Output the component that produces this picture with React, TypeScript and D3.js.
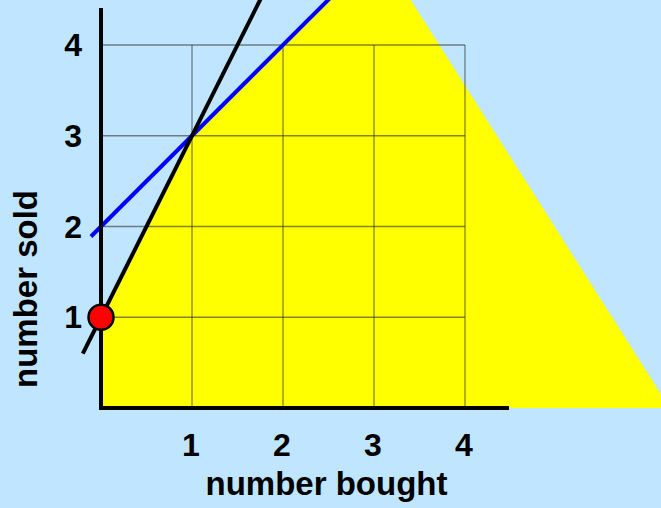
import React from "react";
import * as d3 from "d3";

const W = 661;
const H = 508;

const xTicks = [1, 2, 3, 4];
const yTicks = [1, 2, 3, 4];
const xTitle = "number bought";
const yTitle = "number sold";

// feasible region (yellow) vertices in data units
const regionPts: [number, number][] = [
  [0, 0],
  [0, 1],
  [1, 3],
  [2.5, 4.5],
  [3.4, 4.5],
  [6.25, 0],
];
// black line y = 2x + 1
const blackLine: [number, number][] = [
  [-0.2, 0.6],
  [1.78, 4.56],
];
// blue line y = x + 2
const blueLine: [number, number][] = [
  [-0.11, 1.89],
  [2.56, 4.56],
];
const point: [number, number] = [0, 1];

export default function App() {
  const x = d3.scaleLinear().domain([0, 4]).range([101, 465]);
  const y = d3.scaleLinear().domain([0, 4]).range([408, 45]);
  const line = d3
    .line<[number, number]>()
    .x((d) => x(d[0]))
    .y((d) => y(d[1]));
  const font = "'Liberation Sans', Arial, sans-serif";

  return (
    <svg
      width={W}
      height={H}
      style={{ position: "absolute", left: 0, top: 0 }}
      viewBox={`0 0 ${W} ${H}`}
    >
      <rect x={0} y={0} width={W} height={H} fill="#BFE6FE" />
      <path d={line(regionPts) + "Z"} fill="#FFFF00" />
      <g stroke="#333" strokeOpacity={0.6} strokeWidth={1.3}>
        {xTicks.map((t) => (
          <line key={"vx" + t} x1={x(t)} x2={x(t)} y1={y(0)} y2={y(4)} />
        ))}
        {yTicks.map((t) => (
          <line key={"hy" + t} x1={x(0)} x2={x(4)} y1={y(t)} y2={y(t)} />
        ))}
      </g>
      <path d={line(blueLine) || ""} stroke="#0000FF" strokeWidth={4} fill="none" />
      <path d={line(blackLine) || ""} stroke="#000" strokeWidth={4} fill="none" />
      <line x1={x(0)} x2={x(0)} y1={8} y2={y(0) + 2} stroke="#000" strokeWidth={4} />
      <line x1={x(0) - 2} x2={509} y1={y(0)} y2={y(0)} stroke="#000" strokeWidth={4} />
      <circle
        cx={x(point[0])}
        cy={y(point[1])}
        r={12.5}
        fill="#FF0000"
        stroke="#000"
        strokeWidth={2.5}
      />
      <g fontFamily={font} fontWeight="bold" fontSize={32} fill="#000">
        {xTicks.map((t) => (
          <text key={"xt" + t} x={x(t) - 1} y={456} textAnchor="middle">
            {t}
          </text>
        ))}
        {yTicks.map((t) => (
          <text key={"yt" + t} x={82} y={y(t) + 11} textAnchor="end">
            {t}
          </text>
        ))}
      </g>
      <text
        x={326.5}
        y={495}
        textAnchor="middle"
        fontFamily={font}
        fontWeight="bold"
        fontSize={33}
        fill="#000"
      >
        {xTitle}
      </text>
      <text
        transform={`translate(37,289) rotate(-90)`}
        textAnchor="middle"
        fontFamily={font}
        fontWeight="bold"
        fontSize={33}
        fill="#000"
      >
        {yTitle}
      </text>
    </svg>
  );
}
